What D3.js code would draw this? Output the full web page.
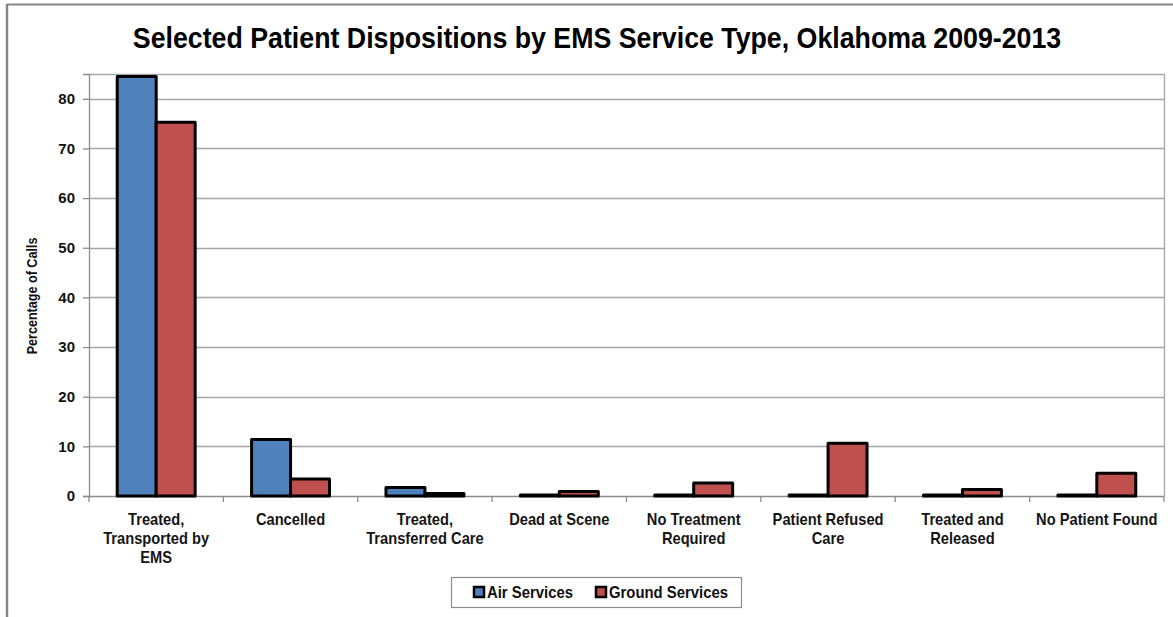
<!DOCTYPE html>
<html>
<head>
<meta charset="utf-8">
<script src="https://cdn.jsdelivr.net/npm/d3@7"></script>
<style>
  html, body { margin: 0; padding: 0; background: #fff; }
  svg { display: block; }
</style>
</head>
<body>
<svg id="chart" width="1173" height="617"></svg>
<script>
const categories = [
  ["Treated,", "Transported by", "EMS"],
  ["Cancelled"],
  ["Treated,", "Transferred Care"],
  ["Dead at Scene"],
  ["No Treatment", "Required"],
  ["Patient Refused", "Care"],
  ["Treated and", "Released"],
  ["No Patient Found"]
];
const seriesNames = ["Air Services", "Ground Services"];
const airValues = [84.5, 11.4, 1.7, 0.2, 0.2, 0.2, 0.2, 0.2];
const groundValues = [75.3, 3.4, 0.5, 0.9, 2.6, 10.6, 1.3, 4.6];
const yTicks = [0, 10, 20, 30, 40, 50, 60, 70, 80];
const seriesColors = ["#4f81bd", "#c0504d"];
const titleText = "Selected Patient Dispositions by EMS Service Type, Oklahoma 2009-2013";
const yTitle = "Percentage of Calls";

const svg = d3.select("#chart");
const sans = "'Liberation Sans', Arial, sans-serif";

// outer frame lines
svg.append("line").attr("x1", 7).attr("x2", 1173).attr("y1", 4.5).attr("y2", 4.5)
  .attr("stroke", "#858585").attr("stroke-width", 2);
svg.append("line").attr("x1", 7).attr("x2", 7).attr("y1", 4).attr("y2", 617)
  .attr("stroke", "#858585").attr("stroke-width", 2.5);

const plot = { left: 89, right: 1164, top: 74, bottom: 496 };

const x0 = d3.scaleBand().domain(d3.range(categories.length))
  .range([plot.left, plot.right]).paddingInner(0.42).paddingOuter(0.21);
const x1 = d3.scaleBand().domain([0, 1]).range([0, x0.bandwidth()]);
const y = d3.scaleLinear().domain([0, 85]).range([plot.bottom, plot.top]);

// gridlines
svg.append("g").selectAll("line").data(yTicks.filter(t => t > 0)).join("line")
  .attr("x1", plot.left).attr("x2", plot.right)
  .attr("y1", d => Math.round(y(d)) + 0.5).attr("y2", d => Math.round(y(d)) + 0.5)
  .attr("stroke", "#a6a6a6").attr("stroke-width", 1.3);

// plot border top & right
svg.append("path")
  .attr("d", `M${plot.left},${plot.top + 0.5}H${plot.right + 0.5}V${plot.bottom}`)
  .attr("fill", "none").attr("stroke", "#a6a6a6").attr("stroke-width", 1.3);

// y axis
const yAxis = d3.axisLeft(y).tickValues(yTicks).tickSize(6).tickPadding(8).tickFormat(d3.format("d"));
const gy = svg.append("g").attr("transform", `translate(${plot.left},0)`).call(yAxis);
gy.select(".domain").attr("stroke", "#8c8c8c").attr("stroke-width", 1.3);
gy.selectAll(".tick line").attr("stroke", "#8c8c8c").attr("stroke-width", 1.3);
gy.selectAll(".tick text").attr("font-family", sans).attr("font-weight", "bold")
  .attr("font-size", 15).attr("fill", "#111");

// x axis
const boundaries = d3.range(categories.length + 1).map(i => plot.left + i * x0.step());
const gx = svg.append("g");
gx.append("line").attr("x1", plot.left).attr("x2", plot.right)
  .attr("y1", plot.bottom + 0.5).attr("y2", plot.bottom + 0.5)
  .attr("stroke", "#8c8c8c").attr("stroke-width", 1.3);
gx.selectAll(".xt").data(boundaries).join("line").attr("class", "xt")
  .attr("x1", d => d).attr("x2", d => d)
  .attr("y1", plot.bottom).attr("y2", plot.bottom + 6)
  .attr("stroke", "#8c8c8c").attr("stroke-width", 1.3);

// bars
const groups = svg.append("g").selectAll("g").data(categories.map((c, i) => i)).join("g")
  .attr("transform", i => `translate(${x0(i)},0)`);
groups.selectAll("rect").data(i => [airValues[i], groundValues[i]]).join("rect")
  .attr("x", (d, j) => x1(j))
  .attr("width", x1.bandwidth())
  .attr("y", d => y(d))
  .attr("height", d => y(0) - y(d))
  .attr("fill", (d, j) => seriesColors[j])
  .attr("stroke", "#000").attr("stroke-width", 3).attr("stroke-linejoin", "round");

// category labels
const lab = svg.append("g").selectAll("text").data(categories).join("text")
  .attr("transform", (d, i) => `translate(${x0(i) + x0.bandwidth() / 2},525) scale(0.89,1)`)
  .attr("text-anchor", "middle")
  .attr("font-family", sans).attr("font-weight", "bold")
  .attr("font-size", 16.5).attr("fill", "#151515");
lab.selectAll("tspan").data(d => d).join("tspan")
  .attr("x", 0)
  .attr("dy", (d, k) => k === 0 ? 0 : 19)
  .text(d => d);

// y title
svg.append("text")
  .attr("transform", "translate(37,296) rotate(-90) scale(0.9,1)")
  .attr("text-anchor", "middle")
  .attr("font-family", sans).attr("font-weight", "bold").attr("font-size", 14)
  .attr("fill", "#111").text(yTitle);

// title
svg.append("text")
  .attr("transform", "translate(597,48) scale(0.892,1)")
  .attr("text-anchor", "middle")
  .attr("font-family", sans).attr("font-weight", "bold").attr("font-size", 30)
  .attr("fill", "#000").text(titleText);

// legend
const lg = svg.append("g");
lg.append("rect").attr("x", 451.5).attr("y", 577.5).attr("width", 290).attr("height", 30)
  .attr("fill", "#fff").attr("stroke", "#8c8c8c").attr("stroke-width", 1.2);
const legendX = [474, 596];
seriesNames.forEach((name, j) => {
  lg.append("rect").attr("x", legendX[j]).attr("y", 587).attr("width", 10).attr("height", 10)
    .attr("fill", seriesColors[j]).attr("stroke", "#000").attr("stroke-width", 2.5);
  lg.append("text")
    .attr("transform", `translate(${legendX[j] + 13},598) scale(0.93,1)`)
    .attr("font-family", sans).attr("font-weight", "bold").attr("font-size", 16)
    .attr("fill", "#111").text(name);
});
</script>
</body>
</html>
